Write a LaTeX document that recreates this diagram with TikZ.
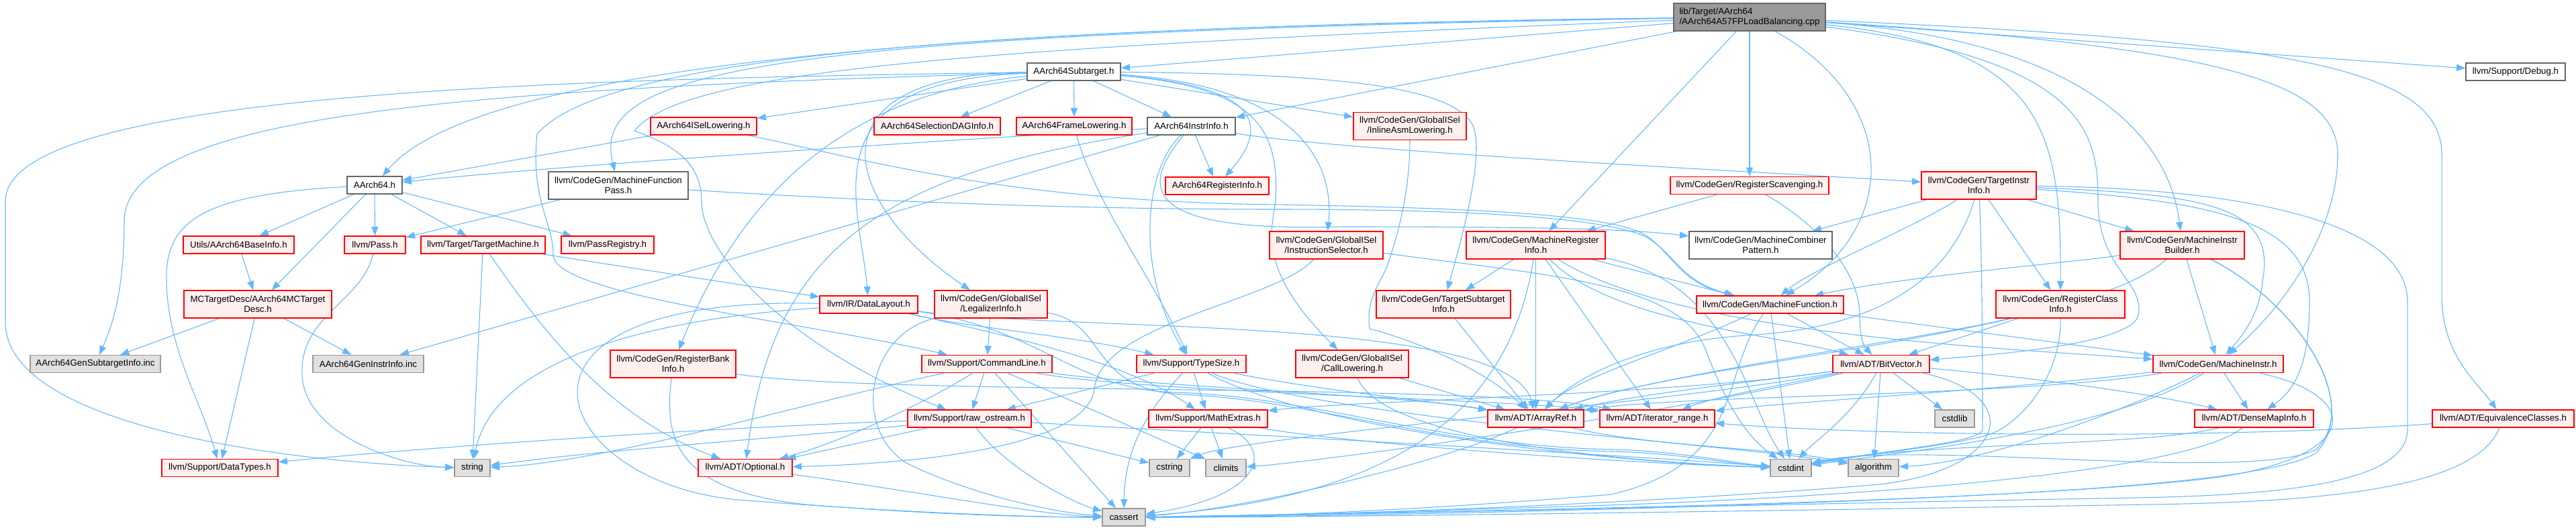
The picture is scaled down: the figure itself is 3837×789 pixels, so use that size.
\documentclass[tikz,border=0pt]{standalone}
\usepackage{fontspec}
\setmainfont{Liberation Sans}
\usetikzlibrary{arrows.meta,backgrounds}
\definecolor{edgec}{HTML}{63B8FF}
\definecolor{rfill}{HTML}{FFF0F0}
\definecolor{rline}{HTML}{FF0000}
\definecolor{gline}{HTML}{666666}
\definecolor{sfill}{HTML}{E0E0E0}
\definecolor{sline}{HTML}{999999}
\definecolor{tfill}{HTML}{999999}
\begin{document}
\begin{tikzpicture}[x=0.75pt,y=-0.75pt,
  nbox/.style={inner sep=0pt,minimum height=19.5pt,align=center,line width=1pt,font=\fontsize{10}{11.25}\selectfont},
  dbl/.style={minimum height=30.75pt},
  bw/.style={minimum width=#1*0.75pt},
  rn/.style={nbox,draw=rline,fill=rfill},
  gn/.style={nbox,draw=gline,fill=white},
  sn/.style={nbox,draw=sline,fill=sfill},
  tn/.style={nbox,draw=gline,fill=tfill},
  lnk/.style={draw=edgec,line width=0.8pt,-{Triangle[length=10pt,width=7.5pt]}}]
\useasboundingbox (0,0) rectangle (3837,789);
% ---------------- nodes
\node[tn,bw=226,dbl,align=left] (t) at (2606,25.5) {lib/Target/AArch64\\/AArch64A57FPLoadBalancing.cpp};
\node[gn,bw=139] (sub) at (1599.5,107) {AArch64Subtarget.h};
\node[gn,bw=148] (debug) at (3747,107) {llvm/Support/Debug.h};
\node[rn,bw=158] (isel) at (1048,188) {AArch64ISelLowering.h};
\node[rn,bw=188] (seldag) at (1396,188) {AArch64SelectionDAGInfo.h};
\node[rn,bw=172] (frame) at (1600,188) {AArch64FrameLowering.h};
\node[gn,bw=131] (instr) at (1774.5,188) {AArch64InstrInfo.h};
\node[rn,bw=168,dbl] (ial) at (2100,188) {llvm/CodeGen/GlobalISel\\/InlineAsmLowering.h};
\node[gn,bw=82] (a64) at (558,276) {AArch64.h};
\node[gn,bw=208,dbl] (mfp) at (921,276.5) {llvm/CodeGen/MachineFunction\\Pass.h};
\node[rn,bw=154] (reginfo) at (1813,277) {AArch64RegisterInfo.h};
\node[rn,bw=236] (regscav) at (2606,276.5) {llvm/CodeGen/RegisterScavenging.h};
\node[rn,bw=171,dbl] (tii) at (2947.5,276.5) {llvm/CodeGen/TargetInstr\\Info.h};
\node[rn,bw=165] (baseinfo) at (355.5,365) {Utils/AArch64BaseInfo.h};
\node[rn,bw=91] (pass) at (558.5,365) {llvm/Pass.h};
\node[rn,bw=185] (tm) at (719.5,365) {llvm/Target/TargetMachine.h};
\node[rn,bw=138] (passreg) at (905,365) {llvm/PassRegistry.h};
\node[rn,bw=169,dbl] (is) at (1975.5,365.5) {llvm/CodeGen/GlobalISel\\/InstructionSelector.h};
\node[rn,bw=207,dbl] (mri) at (2287.5,365.5) {llvm/CodeGen/MachineRegister\\Info.h};
\node[gn,bw=213,dbl] (mcp) at (2622.5,365.5) {llvm/CodeGen/MachineCombiner\\Pattern.h};
\node[rn,bw=185,dbl] (mib) at (3250.5,365.5) {llvm/CodeGen/MachineInstr\\Builder.h};
\node[rn,bw=220,dbl] (mctd) at (384,453.5) {MCTargetDesc/AArch64MCTarget\\Desc.h};
\node[rn,bw=146] (dl) at (1294,454) {llvm/IR/DataLayout.h};
\node[rn,bw=168,dbl] (li) at (1476,453.5) {llvm/CodeGen/GlobalISel\\/LegalizerInfo.h};
\node[rn,bw=200,dbl] (tsi) at (2150,453.5) {llvm/CodeGen/TargetSubtarget\\Info.h};
\node[rn,bw=219] (mf) at (2636.5,454) {llvm/CodeGen/MachineFunction.h};
\node[rn,bw=192,dbl] (rci) at (3069,453.5) {llvm/CodeGen/RegisterClass\\Info.h};
\node[sn,bw=194] (gensub) at (142,542.5) {AArch64GenSubtargetInfo.inc};
\node[sn,bw=165] (geninstr) at (548.5,542.5) {AArch64GenInstrInfo.inc};
\node[rn,bw=187,dbl] (rbi) at (1002.5,542.5) {llvm/CodeGen/RegisterBank\\Info.h};
\node[rn,bw=194] (cl) at (1470,542.5) {llvm/Support/CommandLine.h};
\node[rn,bw=163] (ts) at (1774.5,542.5) {llvm/Support/TypeSize.h};
\node[rn,bw=168,dbl] (clo) at (2014,542.5) {llvm/CodeGen/GlobalISel\\/CallLowering.h};
\node[rn,bw=144] (bv) at (2802,542.5) {llvm/ADT/BitVector.h};
\node[rn,bw=194] (mi) at (3304,542.5) {llvm/CodeGen/MachineInstr.h};
\node[rn,bw=184] (ro) at (1444,624) {llvm/Support/raw\_ostream.h};
\node[rn,bw=177] (me) at (1799.5,624) {llvm/Support/MathExtras.h};
\node[rn,bw=143] (ar) at (2287.5,624) {llvm/ADT/ArrayRef.h};
\node[rn,bw=171] (ir) at (2468.5,624) {llvm/ADT/iterator\_range.h};
\node[sn,bw=59] (cstdlib) at (2911.5,624) {cstdlib};
\node[rn,bw=177] (dmi) at (3357.5,624) {llvm/ADT/DenseMapInfo.h};
\node[rn,bw=211] (ec) at (3728.5,624) {llvm/ADT/EquivalenceClasses.h};
\node[rn,bw=173] (dt) at (327.5,697.5) {llvm/Support/DataTypes.h};
\node[sn,bw=53] (string) at (703.5,697.5) {string};
\node[rn,bw=140] (opt) at (1110,697.5) {llvm/ADT/Optional.h};
\node[sn,bw=60] (cstring) at (1742,697.5) {cstring};
\node[sn,bw=60] (climits) at (1826,697.5) {climits};
\node[sn,bw=61] (cstdint) at (2667.5,697.5) {cstdint};
\node[sn,bw=75] (algo) at (2790.5,697.5) {algorithm};
\node[sn,bw=64] (cassert) at (1674,771) {cassert};
% ---------------- edges
\begin{scope}[on background layer]
\fill[white] (0,0) rectangle (3837,789);
% top file
\draw[lnk] (t) .. controls (1300,40) and (700,110) .. (a64);
\draw[lnk] (t) .. controls (1100,50) and (880,110) .. (mfp);
\draw[lnk] (t) -- (sub);
\draw[lnk] (t) -- (instr);
\draw[lnk] (t) -- (mri);
\draw[lnk] (t) -- (regscav);
\draw[lnk] (t) .. controls (2830,150) and (2830,340) .. (mf);
\draw[lnk] (t) .. controls (3050,70) and (3070,200) .. (rci);
\draw[lnk] (t) .. controls (3110,90) and (3125,200) .. (3125,300) .. controls (3125,400) and (3195,420) .. (3185,470) .. controls (3175,515) and (2950,530) .. (bv);
\draw[lnk] (t) .. controls (3100,60) and (3230,200) .. (mib);
\draw[lnk] (t) .. controls (3300,70) and (3482,120) .. (3482,230) .. controls (3482,330) and (3420,440) .. (mi);
\draw[lnk] (t) .. controls (3400,60) and (3637,100) .. (3637,230) -- (3637,440) .. controls (3637,530) and (3690,570) .. (ec);
\draw[lnk] (t) -- (debug);
\draw[lnk] (t) .. controls (1500,40) and (900,80) .. (800,200) .. controls (790,300) and (824,330) .. (824,380) .. controls (824,440) and (1200,480) .. (cl);
\draw[lnk] (t) .. controls (1500,70) and (1020,100) .. (945,195) .. controls (1000,215) and (1045,240) .. (1045,300) .. controls (1045,380) and (1180,520) .. (ro);
% AArch64Subtarget.h
\draw[lnk] (sub) -- (seldag);
\draw[lnk] (sub) -- (frame);
\draw[lnk] (sub) -- (instr);
\draw[lnk] (sub) .. controls (1900,130) and (1880,200) .. (reginfo);
\draw[lnk] (sub) -- (isel);
\draw[lnk] (sub) -- (ial);
\draw[lnk] (sub) .. controls (1900,125) and (1990,220) .. (is);
\draw[lnk] (sub) .. controls (1200,110) and (1250,300) .. (li);
\draw[lnk] (sub) .. controls (1250,140) and (1100,300) .. (rbi);
\draw[lnk] (sub) .. controls (1880,130) and (1905,200) .. (1900,300) .. controls (1895,340) and (1870,400) .. (clo);
\draw[lnk] (sub) .. controls (2000,110) and (2160,130) .. (2193,185) .. controls (2215,230) and (2170,380) .. (tsi);
\draw[lnk] (sub) .. controls (1200,120) and (1280,300) .. (dl);
\draw[lnk] (sub) .. controls (800,118) and (8,140) .. (8,300) -- (8,480) .. controls (8,640) and (450,690) .. (string);
\draw[lnk] (sub) .. controls (700,132) and (185,170) .. (185,330) .. controls (185,440) and (165,490) .. (gensub);
% AArch64InstrInfo.h
\draw[lnk] (instr) .. controls (1300,215) and (800,250) .. (a64);
\draw[lnk] (instr) -- (geninstr);
\draw[lnk] (instr) -- (reginfo);
\draw[lnk] (instr) .. controls (1300,260) and (1150,380) .. (opt);
\draw[lnk] (instr) .. controls (1680,300) and (1740,345) .. (2000,338) .. controls (2250,338) and (2420,340) .. (mcp);
\draw[lnk] (instr) .. controls (2000,225) and (2600,255) .. (tii);
\draw[lnk] (instr) .. controls (1705,250) and (1690,400) .. (ts);
% other rank-2
\draw[lnk] (frame) .. controls (1630,300) and (1720,420) .. (ts);
\draw[lnk] (isel) -- (a64);
\draw[lnk] (isel) .. controls (1300,240) and (1500,300) .. (1900,305) .. controls (2200,310) and (2400,320) .. (2450,350) .. controls (2490,375) and (2500,420) .. (mf);
\draw[lnk] (ial) .. controls (2100,300) and (2075,370) .. (2065,400) .. controls (2050,430) and (2035,450) .. (2040,490) .. controls (2080,500) and (2200,540) .. (ar);
% AArch64.h
\draw[lnk] (a64) -- (baseinfo);
\draw[lnk] (a64) -- (mctd);
\draw[lnk] (a64) -- (pass);
\draw[lnk] (a64) -- (tm);
\draw[lnk] (a64) -- (passreg);
\draw[lnk] (a64) .. controls (300,290) and (245,330) .. (248,420) .. controls (250,520) and (300,600) .. (dt);
\draw[lnk] (baseinfo) -- (mctd);
\draw[lnk] (mctd) -- (gensub);
\draw[lnk] (mctd) -- (geninstr);
\draw[lnk] (mctd) -- (dt);
% MachineFunctionPass.h
\draw[lnk] (mfp) -- (pass);
\draw[lnk] (mfp) .. controls (1300,300) and (1600,312) .. (1900,312) .. controls (2200,312) and (2400,325) .. (2455,355) .. controls (2495,380) and (2505,420) .. (mf);
% TargetMachine.h, Pass.h
\draw[lnk] (tm) -- (string);
\draw[lnk] (tm) .. controls (800,480) and (900,620) .. (opt);
\draw[lnk] (tm) -- (dl);
\draw[lnk] (pass) .. controls (540,450) and (445,470) .. (450,560) .. controls (455,650) and (600,695) .. (string);
% DataLayout.h
\draw[lnk] (dl) .. controls (900,480) and (730,560) .. (string);
\draw[lnk] (dl) .. controls (700,440) and (820,720) .. (1100,745) .. controls (1350,765) and (1550,771) .. (cassert);
\draw[lnk] (dl) .. controls (1450,490) and (1600,500) .. (ts);
\draw[lnk] (dl) .. controls (1500,500) and (1680,540) .. (me);
\draw[lnk] (dl) .. controls (1600,495) and (2250,470) .. (ar);
\draw[lnk] (dl) .. controls (1550,490) and (1600,580) .. (1750,585) .. controls (1950,590) and (2150,665) .. (2400,670) .. controls (2500,672) and (2580,690) .. (cstdint);
% LegalizerInfo.h
\draw[lnk] (li) -- (cl);
\draw[lnk] (li) .. controls (1290,500) and (1270,640) .. (1350,690) .. controls (1450,740) and (1580,765) .. (cassert);
\draw[lnk] (li) .. controls (1650,480) and (1620,580) .. (1760,588) .. controls (1950,595) and (2150,668) .. (2400,673) .. controls (2500,675) and (2580,692) .. (cstdint);
% RegisterBankInfo.h
\draw[lnk] (rbi) .. controls (1300,590) and (2200,570) .. (ir);
\draw[lnk] (rbi) .. controls (990,650) and (1000,730) .. (1200,752) .. controls (1400,768) and (1550,771) .. (cassert);
% CommandLine.h
\draw[lnk] (cl) .. controls (1700,575) and (2100,590) .. (ar);
\draw[lnk] (cl) .. controls (1700,585) and (2250,595) .. (ir);
\draw[lnk] (cl) .. controls (1380,600) and (1250,660) .. (opt);
\draw[lnk] (cl) -- (ro);
\draw[lnk] (cl) -- (cassert);
\draw[lnk] (cl) -- (climits);
\draw[lnk] (cl) .. controls (1200,600) and (900,690) .. (string);
% raw_ostream.h
\draw[lnk] (ro) .. controls (1000,640) and (600,670) .. (dt);
\draw[lnk] (ro) .. controls (1200,650) and (900,670) .. (string);
\draw[lnk] (ro) -- (opt);
\draw[lnk] (ro) .. controls (1500,700) and (1600,750) .. (cassert);
\draw[lnk] (ro) -- (cstring);
\draw[lnk] (ro) .. controls (1700,640) and (2300,670) .. (cstdint);
% TypeSize.h
\draw[lnk] (ts) -- (ro);
\draw[lnk] (ts) .. controls (1700,620) and (1675,680) .. (cassert);
\draw[lnk] (ts) -- (me);
\draw[lnk] (ts) .. controls (1950,580) and (2150,600) .. (ar);
\draw[lnk] (ts) .. controls (1950,620) and (2600,665) .. (algo);
\draw[lnk] (ts) .. controls (1950,640) and (2400,690) .. (cstdint);
% MathExtras.h
\draw[lnk] (me) -- (cstring);
\draw[lnk] (me) -- (climits);
\draw[lnk] (me) .. controls (1900,670) and (1880,740) .. (cassert);
\draw[lnk] (me) .. controls (2000,660) and (2400,690) .. (cstdint);
% ArrayRef.h
\draw[lnk] (ar) .. controls (2150,690) and (1850,760) .. (cassert);
\draw[lnk] (ar) .. controls (2450,665) and (2650,668) .. (algo);
% BitVector.h
\draw[lnk] (bv) .. controls (2650,565) and (2450,585) .. (ar);
\draw[lnk] (bv) .. controls (2650,575) and (2560,590) .. (ir);
\draw[lnk] (bv) .. controls (2500,588) and (2000,598) .. (me);
\draw[lnk] (bv) .. controls (2500,600) and (1850,650) .. (cstring);
\draw[lnk] (bv) .. controls (2500,615) and (1950,690) .. (climits);
\draw[lnk] (bv) .. controls (2760,620) and (2700,660) .. (cstdint);
\draw[lnk] (bv) -- (algo);
\draw[lnk] (bv) -- (cstdlib);
\draw[lnk] (bv) .. controls (3000,560) and (3200,585) .. (dmi);
\draw[lnk] (bv) .. controls (3020,590) and (2990,700) .. (2800,722) .. controls (2400,755) and (1900,770) .. (cassert);
% MachineFunction.h
\draw[lnk] (mf) .. controls (2500,520) and (2350,560) .. (ar);
\draw[lnk] (mf) -- (bv);
\draw[lnk] (mf) -- (mi);
\draw[lnk] (mf) -- (cstdint);
\draw[lnk] (mf) .. controls (2560,560) and (2600,690) .. (2400,737) .. controls (2100,762) and (1850,771) .. (cassert);
% MachineRegisterInfo.h
\draw[lnk] (mri) -- (tsi);
\draw[lnk] (mri) -- (ar);
\draw[lnk] (mri) -- (ir);
\draw[lnk] (mri) .. controls (2400,480) and (2650,500) .. (bv);
\draw[lnk] (mri) -- (mf);
\draw[lnk] (mri) .. controls (2500,500) and (3000,520) .. (mi);
\draw[lnk] (mri) .. controls (2250,600) and (2100,740) .. (cassert);
\draw[lnk] (mri) .. controls (2580,420) and (2600,600) .. (cstdint);
% RegisterScavenging.h
\draw[lnk] (regscav) -- (mri);
\draw[lnk] (regscav) .. controls (2700,330) and (2770,400) .. (2770,470) .. controls (2770,500) and (2775,515) .. (bv);
% MachineInstrBuilder.h
\draw[lnk] (mib) -- (mi);
\draw[lnk] (mib) .. controls (3100,390) and (2850,410) .. (mf);
\draw[lnk] (mib) .. controls (3100,500) and (2500,540) .. (ar);
\draw[lnk] (mib) .. controls (3420,450) and (3520,600) .. (3450,675) .. controls (3350,740) and (2600,755) .. (cassert);
\draw[lnk] (mib) .. controls (3420,450) and (3520,600) .. (3450,670) .. controls (3350,720) and (2850,655) .. (cstdint);
% MachineInstr.h
\draw[lnk] (mi) -- (dmi);
\draw[lnk] (mi) .. controls (3000,580) and (2650,600) .. (ir);
\draw[lnk] (mi) .. controls (3000,592) and (2500,588) .. (ar);
\draw[lnk] (mi) .. controls (3150,620) and (2950,690) .. (algo);
\draw[lnk] (mi) .. controls (3150,640) and (2850,672) .. (cstdint);
\draw[lnk] (mi) .. controls (3520,590) and (3520,680) .. (3300,712) .. controls (3000,750) and (2000,771) .. (cassert);
% DenseMapInfo.h, EquivalenceClasses.h, Optional.h
\draw[lnk] (dmi) .. controls (3200,665) and (2850,660) .. (cstdint);
\draw[lnk] (dmi) .. controls (3250,710) and (2700,745) .. (2300,756) .. controls (2000,765) and (1800,771) .. (cassert);
\draw[lnk] (ec) .. controls (3300,655) and (2800,650) .. (ir);
\draw[lnk] (ec) .. controls (3690,720) and (3500,748) .. (3200,752) .. controls (2600,762) and (2000,771) .. (cassert);
\draw[lnk] (opt) .. controls (1350,730) and (1550,768) .. (cassert);
% TargetInstrInfo.h
\draw[lnk] (tii) -- (mcp);
\draw[lnk] (tii) .. controls (2850,340) and (2700,400) .. (mf);
\draw[lnk] (tii) -- (mib);
\draw[lnk] (tii) -- (rci);
\draw[lnk] (tii) .. controls (3300,290) and (3390,310) .. (3370,420) .. controls (3365,470) and (3340,500) .. (mi);
\draw[lnk] (tii) .. controls (3300,300) and (3440,330) .. (3440,450) .. controls (3440,540) and (3420,580) .. (dmi);
\draw[lnk] (tii) .. controls (2900,430) and (2780,490) .. (2600,500) .. controls (2450,510) and (2350,560) .. (ar);
\draw[lnk] (tii) .. controls (2953,400) and (2953,600) .. (2953,640) .. controls (2953,660) and (2800,672) .. (cstdint);
\draw[lnk] (tii) .. controls (3300,280) and (3586,320) .. (3586,450) -- (3586,640) .. controls (3586,720) and (3400,738) .. (3180,742) .. controls (2600,752) and (1900,770) .. (cassert);
% RegisterClassInfo.h
\draw[lnk] (rci) -- (bv);
\draw[lnk] (rci) .. controls (2900,500) and (2450,560) .. (ar);
\draw[lnk] (rci) .. controls (3070,570) and (3000,640) .. (2955,650) .. controls (2880,668) and (2800,674) .. (cstdint);
% InstructionSelector.h, CallLowering.h, TargetSubtargetInfo.h
\draw[lnk] (is) .. controls (1900,450) and (1640,480) .. (1630,580) .. controls (1620,660) and (1400,690) .. (opt);
\draw[lnk] (is) .. controls (2300,410) and (2500,420) .. (2540,520) .. controls (2570,600) and (2600,650) .. (cstdint);
\draw[lnk] (clo) -- (ar);
\draw[lnk] (clo) .. controls (2060,660) and (2450,690) .. (cstdint);
\draw[lnk] (tsi) -- (ar);
\end{scope}
\end{tikzpicture}
\end{document}
